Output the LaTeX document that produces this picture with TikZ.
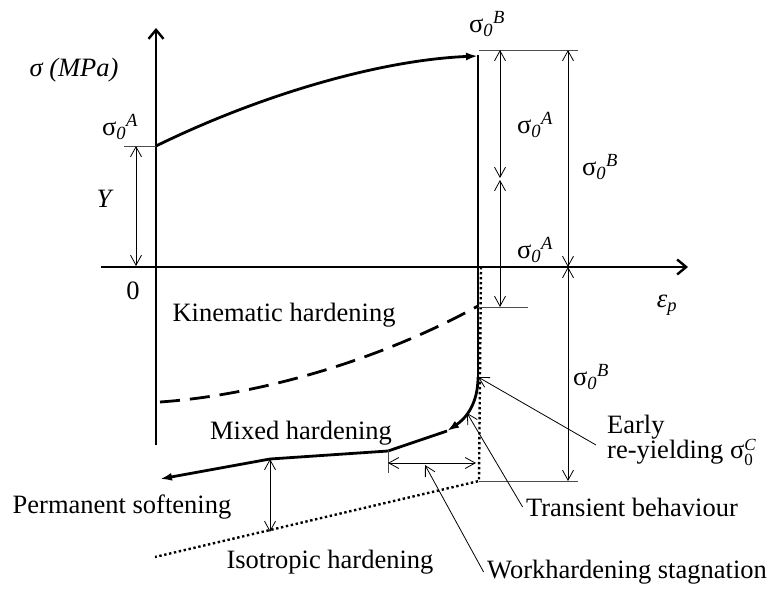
\documentclass[tikz,border=0pt]{standalone}
\usepackage{fontspec}
\setmainfont{Liberation Serif}
\usetikzlibrary{arrows.meta}

\newcommand{\sgm}[1]{σ\textsubscript{\itshape 0}\textsuperscript{\itshape #1}}
\newcommand{\sgmC}{σ\raisebox{-7pt}{\fontsize{17}{19}\selectfont\shortstack[l]{\itshape C\\0}}}

\begin{document}
\begin{tikzpicture}[x=1pt, y=-1pt, font=\fontsize{26.5}{25}\selectfont,
    >={Straight Barb[length=10pt,width=11pt]},
    axis/.style={line width=2.4pt, -{Straight Barb[length=9pt,width=15pt]}},
    curve/.style={line width=2.8pt},
    tip/.style={-{Latex[length=12pt,width=8pt]}},
    dim/.style={line width=0.8pt, <->},
    guide/.style={line width=0.8pt, black!70},
    pointer/.style={line width=0.8pt, ->}]
    \useasboundingbox (0,0) rectangle (776,594);

    % Axes
    \draw[axis] (156,445) -- (156,28);
    \draw[axis] (101,267) -- (688,267);

    % Key points of the loading path
    \coordinate (A) at (156,146);
    \coordinate (B) at (478,56);
    \coordinate (C) at (478,377);
    \coordinate (M1) at (447,431);
    \coordinate (M2) at (388,451);
    \coordinate (M3) at (270,459);
    \coordinate (M4) at (160,479);
    \coordinate (D) at (479,481);
    \coordinate (T) at (467,413);
    \coordinate (W) at (425,465);

    % Forward loading
    \draw[curve, tip] (A) .. controls (260,95) and (380,60) .. (B);

    % Isotropic hardening (dotted)
    \draw[line width=2.4pt, dash pattern=on 2.4pt off 2.6pt] (481,267) -- (D) -- (155,557);

    % Reverse loading, mixed hardening
    \draw[curve] (478,55) -- (C);
    \draw[curve, tip] (C) .. controls (478,408) and (462,421) .. (M1);
    \draw[curve, tip] (M1) -- (M2) -- (M3) -- (M4);

    % Kinematic hardening (dashed)
    \draw[curve, dash pattern=on 20pt off 10pt] (160,402) .. controls (260,395) and (380,360) .. (478,306);

    % Guide lines
    \draw[guide] (124,146) -- (A);
    \draw[guide] (479,50) -- (578,50);
    \draw[guide] (478,307) -- (528,307);
    \draw[guide] (D) -- (578,481);
    \draw[guide] (388,450) -- (388,473);

    % Dimension arrows
    \draw[dim] (136,146) -- (136,266);
    \draw[dim] (500,50) -- (500,178);
    \draw[dim] (500,180) -- (500,307);
    \draw[dim] (568,50) -- (568,267);
    \draw[dim] (568,267) -- (568,481);
    \draw[dim] (388,463) -- (476,463);
    \draw[dim] (M3) -- (270,532);

    % Axis labels
    \node (sigax) at (74,70) {\itshape σ (MPa)};
    \node (epsax) at (667,305) {\itshape ε\textsubscript{p}};
    \node (zero) at (133,291) {0};
    \node (yld) at (104,199) {\itshape Y};

    % Stress levels
    \node (sA) at (120,127) {\sgm{A}};
    \node (sBtop) at (487,24) {\sgm{B}};
    \node (sAup) at (535,125) {\sgm{A}};
    \node (sAlow) at (535,250) {\sgm{A}};
    \node (sBup) at (600,167) {\sgm{B}};
    \node (sBlow) at (591,377) {\sgm{B}};

    % Curve names
    \node (kin) at (284,315) {Kinematic hardening};
    \node (mix) at (301,433) {Mixed hardening};
    \node (perm) at (122,507) {Permanent softening};
    \node (iso) at (330,562) {Isotropic hardening};
    \node[anchor=west, align=left, inner sep=1pt] (early) at (606,440) {Early\\re-yielding \sgmC};
    \node (trans) at (632,507) {Transient behaviour};
    \node (work) at (627,572) {Workhardening stagnation};

    % Pointers
    \draw[pointer] ([xshift=-10pt,yshift=-5pt]early.west) -- (C);
    \draw[pointer] (trans.west) -- (T);
    \draw[pointer] (work.west) -- (W);
\end{tikzpicture}
\end{document}
